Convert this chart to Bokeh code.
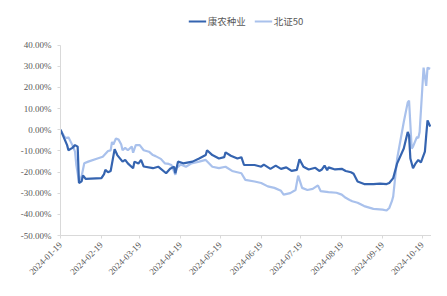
from datetime import datetime
from bokeh.plotting import figure
from bokeh.models import (Range1d, FixedTicker, DatetimeTickFormatter, PrintfTickFormatter,
                          Legend, LegendItem, ColumnDataSource)
from bokeh.embed import file_html
from bokeh.resources import INLINE
import math

series1_name = "康农种业"
series2_name = "北证50"

kn_dates = ["2024-01-19","2024-01-24","2024-01-25","2024-01-28","2024-01-30","2024-02-01","2024-02-02",
            "2024-02-04","2024-02-05","2024-02-07","2024-02-19","2024-02-21","2024-02-22","2024-02-24",
            "2024-02-26","2024-02-29","2024-03-02","2024-03-06","2024-03-08","2024-03-10","2024-03-14",
            "2024-03-15","2024-03-18","2024-03-20","2024-03-22","2024-03-29","2024-04-02","2024-04-08",
            "2024-04-11","2024-04-14","2024-04-15","2024-04-17","2024-04-21","2024-04-28","2024-05-03",
            "2024-05-08","2024-05-09","2024-05-13","2024-05-18","2024-05-22","2024-05-23","2024-05-27",
            "2024-06-01","2024-06-04","2024-06-06","2024-06-14","2024-06-19","2024-06-21","2024-06-26",
            "2024-06-30","2024-07-04","2024-07-08","2024-07-12","2024-07-16","2024-07-18","2024-07-21",
            "2024-07-25","2024-07-30","2024-08-02","2024-08-04","2024-08-06","2024-08-08","2024-08-09",
            "2024-08-14","2024-08-19","2024-08-22","2024-08-26","2024-08-28","2024-08-31","2024-09-05",
            "2024-09-12","2024-09-17","2024-09-22","2024-09-24","2024-09-27","2024-09-30","2024-10-05",
            "2024-10-08","2024-10-09","2024-10-10","2024-10-12","2024-10-14","2024-10-16","2024-10-18",
            "2024-10-21","2024-10-22","2024-10-23","2024-10-25"]
kn_values = [0.0,-7.3,-9.7,-8.6,-7.3,-8.0,-25.2,
             -24.4,-21.6,-23.2,-22.9,-21.0,-19.0,-20.1,
             -19.5,-9.2,-12.0,-15.1,-14.3,-15.9,-18.2,
             -15.1,-16.0,-14.3,-17.4,-18.2,-17.5,-20.6,
             -18.5,-17.5,-20.6,-15.1,-15.9,-15.1,-13.6,
             -12.0,-9.7,-12.0,-13.6,-13.0,-10.7,-12.3,
             -13.6,-13.0,-16.7,-16.7,-17.5,-16.5,-18.5,
             -17.0,-18.5,-17.8,-19.5,-19.0,-14.0,-17.5,
             -18.8,-18.0,-19.5,-18.8,-17.0,-19.2,-17.8,
             -18.8,-18.5,-19.5,-20.1,-20.8,-24.5,-25.7,
             -25.7,-25.5,-25.7,-25.2,-22.9,-15.9,-8.9,
             -1.1,-2.7,-13.6,-18.2,-15.9,-14.3,-15.5,
             -10.4,-2.7,4.4,1.5]

bz_dates = ["2024-01-19","2024-01-22","2024-01-24","2024-01-25","2024-01-28","2024-01-30","2024-01-31",
            "2024-02-02","2024-02-04","2024-02-06","2024-02-09","2024-02-16","2024-02-20","2024-02-24",
            "2024-02-26","2024-02-27","2024-02-28","2024-03-01","2024-03-03","2024-03-05","2024-03-06",
            "2024-03-08","2024-03-10","2024-03-13","2024-03-14","2024-03-16","2024-03-19","2024-03-22",
            "2024-03-26","2024-03-29","2024-03-31","2024-04-04","2024-04-07","2024-04-10","2024-04-12",
            "2024-04-15","2024-04-16","2024-04-19","2024-04-23","2024-04-27","2024-05-03","2024-05-08",
            "2024-05-13","2024-05-18","2024-05-23","2024-05-28","2024-06-04","2024-06-07","2024-06-14",
            "2024-06-19","2024-06-24","2024-06-29","2024-07-04","2024-07-06","2024-07-11","2024-07-15",
            "2024-07-17","2024-07-20","2024-07-24","2024-07-28","2024-08-01","2024-08-03","2024-08-09",
            "2024-08-15","2024-08-19","2024-08-22","2024-08-25","2024-08-27","2024-08-31","2024-09-05",
            "2024-09-12","2024-09-19","2024-09-22","2024-09-24","2024-09-26","2024-09-27","2024-09-30",
            "2024-10-05","2024-10-08","2024-10-09","2024-10-11","2024-10-12","2024-10-15","2024-10-16",
            "2024-10-17","2024-10-19","2024-10-20","2024-10-22","2024-10-23","2024-10-25"]
bz_values = [0.0,-3.4,-4.0,-3.6,-7.3,-10.4,-16.7,
             -24.5,-22.0,-15.9,-15.1,-13.6,-12.8,-10.1,
             -9.8,-5.8,-7.0,-4.2,-4.7,-7.0,-9.7,
             -8.6,-9.7,-8.0,-10.9,-7.3,-7.3,-9.7,
             -10.4,-12.0,-12.5,-13.8,-15.9,-16.2,-16.7,
             -21.3,-18.0,-16.5,-17.5,-16.0,-15.1,-14.3,
             -17.5,-18.2,-17.5,-19.5,-20.6,-23.7,-24.5,
             -25.2,-26.8,-27.5,-28.9,-30.7,-30.0,-28.5,
             -21.7,-27.5,-28.5,-28.0,-26.3,-29.0,-29.5,
             -29.8,-30.7,-32.2,-33.2,-33.8,-34.5,-36.1,
             -37.4,-37.8,-38.2,-37.0,-33.8,-31.5,-13.6,
             3.6,12.9,13.7,-8.9,-8.0,-3.4,-4.0,
             -1.1,19.2,29.3,20.7,29.3,28.8]

x_tick_labels = ["2024-01-19","2024-02-19","2024-03-19","2024-04-19","2024-05-19",
                 "2024-06-19","2024-07-19","2024-08-19","2024-09-19","2024-10-19"]
y_ticks = [-50, -40, -30, -20, -10, 0, 10, 20, 30, 40]

def to_dt(s):
    return datetime.strptime(s, "%Y-%m-%d")

def to_ms(s):
    return (to_dt(s) - datetime(1970, 1, 1)).total_seconds() * 1000.0

src1 = ColumnDataSource(dict(x=[to_dt(d) for d in kn_dates], y=kn_values))
src2 = ColumnDataSource(dict(x=[to_dt(d) for d in bz_dates], y=bz_values))

p = figure(width=431, height=280, x_axis_type="datetime", output_backend="svg",
           toolbar_location=None,
           x_range=Range1d(to_dt("2024-01-19"), to_dt("2024-10-26")),
           y_range=Range1d(-50, 57.25),
           min_border_left=60, min_border_right=0, min_border_top=8, min_border_bottom=42)
p.outline_line_color = None
p.xgrid.visible = False
p.ygrid.visible = False
p.background_fill_color = "white"
p.border_fill_color = "white"

dark = "#3564B0"
light = "#A9C1EC"
r2 = p.line("x", "y", source=src2, line_color=light, line_width=2.2)
r1 = p.line("x", "y", source=src1, line_color=dark, line_width=2.2)

font = "Liberation Serif"
for ax in (p.xaxis[0], p.yaxis[0]):
    ax.axis_line_color = "#D9D9D9"
    ax.major_tick_line_color = "#D9D9D9"
    ax.minor_tick_line_color = None
    ax.major_label_text_font = font
    ax.major_label_text_color = "#595959"
    ax.major_label_text_font_size = "9px"
    ax.major_tick_out = 3
    ax.major_tick_in = 0

p.yaxis.ticker = FixedTicker(ticks=y_ticks)
p.yaxis.formatter = PrintfTickFormatter(format="%.2f%%")
p.yaxis.major_label_standoff = 6
p.yaxis.bounds = (-50, 40)

p.xaxis.ticker = FixedTicker(ticks=[to_ms(d) for d in x_tick_labels])
p.xaxis.formatter = DatetimeTickFormatter(days="%Y-%m-%d", months="%Y-%m-%d", years="%Y-%m-%d")
p.xaxis.major_label_orientation = math.pi / 4
p.xaxis.major_label_standoff = 5

legend = Legend(items=[LegendItem(label=series1_name, renderers=[r1]),
                       LegendItem(label=series2_name, renderers=[r2])],
                orientation="horizontal", location="top_center",
                label_text_font="Noto Sans CJK SC", label_text_font_size="9.5px",
                label_text_color="#595959", border_line_color=None,
                background_fill_alpha=0, glyph_width=18, glyph_height=12,
                label_standoff=2, spacing=8, padding=0, margin=6)
p.add_layout(legend, "center")

open("out.html", "w").write(file_html(p, INLINE))
